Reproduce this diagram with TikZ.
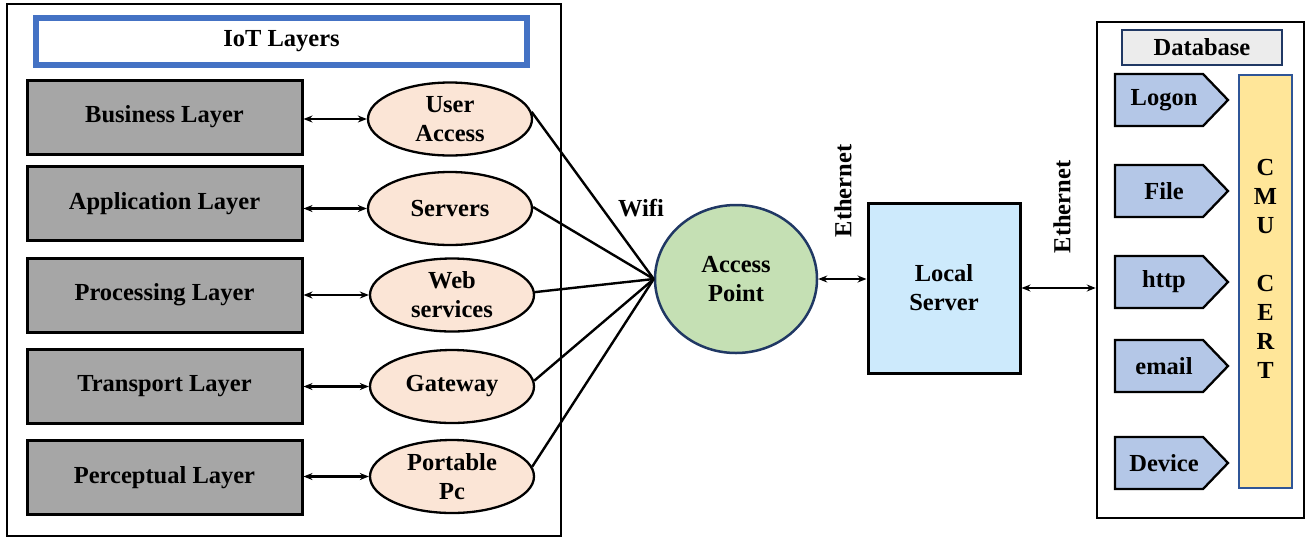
\documentclass[tikz,border=0pt]{standalone}
\usepackage{fontspec}
\setmainfont{Liberation Serif}
\usetikzlibrary{arrows.meta,shapes.geometric}
\definecolor{graybox}{HTML}{A6A6A6}
\definecolor{peach}{HTML}{FBE5D6}
\definecolor{apgreen}{HTML}{C5E0B4}
\definecolor{navy}{HTML}{203864}
\definecolor{lsblue}{HTML}{CDEAFC}
\definecolor{iotblue}{HTML}{4472C4}
\definecolor{dbgray}{HTML}{ECECEC}
\definecolor{tagblue}{HTML}{B4C7E7}
\definecolor{cmuyellow}{HTML}{FFE699}
\definecolor{cmuedge}{HTML}{2F5597}
\begin{document}
\begin{tikzpicture}[x=1pt,y=-1pt,
  font=\fontsize{24.5}{29}\selectfont\bfseries,
  layerbox/.style={draw=black, line width=3pt, fill=graybox, minimum width=275pt, minimum height=74pt, inner sep=0pt},
  ellbox/.style={ellipse, draw=black, line width=2.3pt, fill=peach, minimum width=164pt, minimum height=73pt, inner sep=0pt},
  txt/.style={align=center, inner sep=0pt},
  link/.style={line width=2.4pt},
  biarrow/.style={line width=2.4pt, {Stealth[length=9pt,width=7pt]}-{Stealth[length=9pt,width=7pt]}},
  tag/.style={draw=black, line width=2.3pt, fill=tagblue}
]
\useasboundingbox (0,0) rectangle (1313,539);

% left frame
\node[draw=black, line width=2.5pt, minimum width=554pt, minimum height=532pt, inner sep=0pt] (leftframe) at (284,270) {};
\node[draw=iotblue, line width=6pt, fill=white, minimum width=491pt, minimum height=47pt, inner sep=0pt] (iot) at (281.5,41.5) {IoT Layers};

% layer boxes
\node[layerbox] (bl) at (164.5,117) {Business Layer};
\node[layerbox] (al) at (164.5,203.5) {Application Layer};
\node[layerbox] (pl) at (164.5,295) {Processing Layer};
\node[layerbox] (tl) at (164.5,386.5) {Transport Layer};
\node[layerbox] (cl) at (164.5,477.5) {Perceptual Layer};

% ellipses
\node[ellbox] (ua) at (450,119) {};
\node[txt] (ua-t) at (ua) {User\\Access};
\node[ellbox] (sv) at (450,208.5) {};
\node[txt] (sv-t) at (sv) {Servers};
\node[ellbox] (ws) at (452,295) {};
\node[txt] (ws-t) at (ws) {Web\\services};
\node[ellbox] (gw) at (452,386.5) {};
\node[txt] (gw-t) at (gw) {Gateway};
\node[ellbox] (pp) at (452,476.5) {};
\node[txt] (pp-t) at (pp) {Portable\\Pc};

% layer <-> ellipse arrows
\foreach \a/\b in {bl/ua, al/sv, pl/ws, tl/gw, cl/pp}
  \draw[biarrow] (\a.east |- \b.west) -- (\b.west);

% access point
\node[ellipse, draw=navy, line width=2.5pt, fill=apgreen, minimum width=162pt, minimum height=148pt, inner sep=0pt] (ap) at (736,279) {};
\node[txt] (ap-t) at (ap) {Access\\Point};
\node[txt] (wifi) at (641,208) {Wifi};

% wifi links
\draw[link] (ua.5) -- (ap.west);
\draw[link] (sv.1) -- (ap.west);
\draw[link] (ws.2) -- (ap.west);
\draw[link] (gw.4) -- (ap.west);
\draw[link] (pp.7) -- (ap.west);

% local server
\node[draw=black, line width=3pt, fill=lsblue, minimum width=152pt, minimum height=170pt, inner sep=0pt] (ls) at (944,288) {};
\node[txt] (ls-t) at (ls) {Local\\Server};
\draw[biarrow] (ap.east) -- (ap.east -| ls.west);
\node[txt, rotate=90] (eth1) at (843,191) {Ethernet};

% database frame
\node[draw=black, line width=2.5pt, minimum width=207pt, minimum height=496pt, inner sep=0pt] (db) at (1200.5,270) {};
\draw[biarrow] (ls.east) -- (ls.east -| db.west);
\node[txt, rotate=90] (eth2) at (1062,207) {Ethernet};
\node[draw=navy, line width=2.5pt, fill=dbgray, minimum width=160pt, minimum height=35pt, inner sep=0pt] (dbt) at (1202,47.5) {Database};

% CMU CERT bar
\node[draw=cmuedge, line width=1.8pt, fill=cmuyellow, minimum width=53pt, minimum height=413pt, inner sep=0pt] (cmu) at (1265.5,281.5) {};
\node[txt] (cmu-t) at (1265.5,268.5) {C\\M\\U\\\mbox{}\\C\\E\\R\\T};

% tags
\foreach \y/\t/\n in {100/Logon/lg, 191/File/fl, 282/http/ht, 366/email/em, 463/Device/dv}{
  \draw[tag] (1115,\y-26) -- (1203,\y-26) -- (1228,\y) -- (1203,\y+26) -- (1115,\y+26) -- cycle;
  \node[txt] (\n) at (1164,\y) {\t};
}
\end{tikzpicture}
\end{document}
